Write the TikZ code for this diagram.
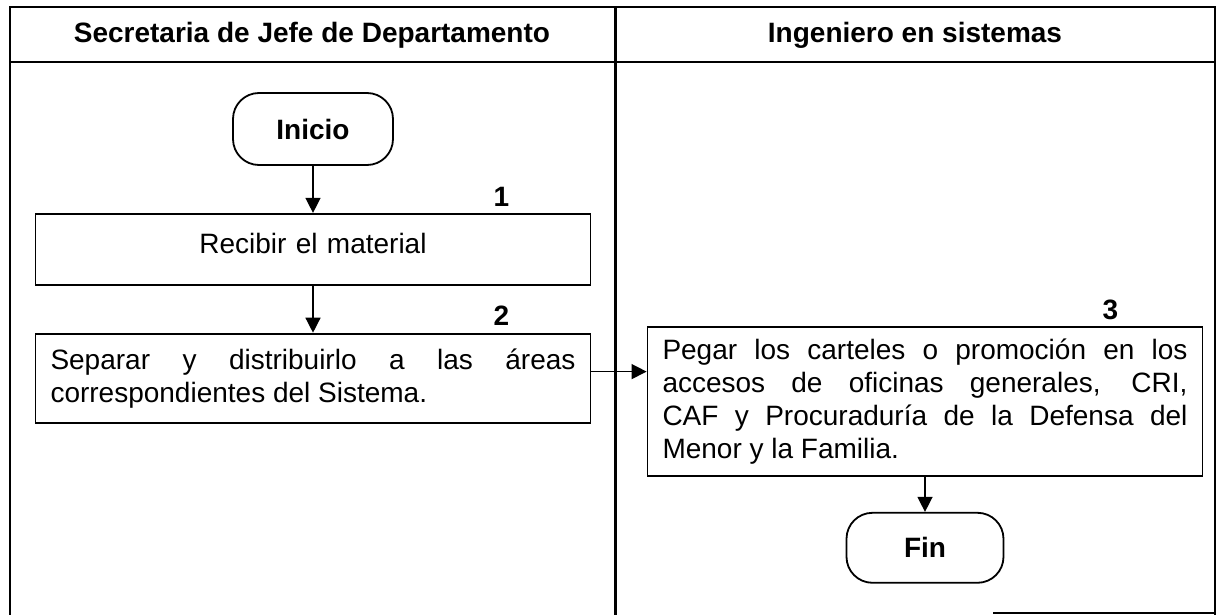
\documentclass[tikz,border=0pt]{standalone}
\usepackage{fontspec}
\setmainfont{Liberation Sans}
\usepackage{tikz}
\usetikzlibrary{shapes.geometric, arrows.meta, positioning, calc}
\tolerance=10000
\hbadness=10000
\hyphenpenalty=10000
\tikzstyle{arrow} = [line width=0.7pt, -{Triangle[length=7.5pt, width=7.5pt]}]
\tikzstyle{process} = [rectangle, draw=black, line width=0.9pt, text width=262.5pt, inner xsep=7.5pt, align=justify, font=\fontsize{14}{16.5}\selectfont]
\tikzstyle{terminal} = [rectangle, rounded corners=13pt, draw=black, line width=0.9pt, font=\fontsize{14}{16.5}\selectfont\bfseries]
\tikzstyle{titulo} = [font=\fontsize{14}{16.5}\selectfont\bfseries]
\tikzstyle{numero} = [font=\fontsize{14}{16.5}\selectfont\bfseries]
\tikzstyle{marco} = [line width=1.3pt]

\begin{document}
\begin{tikzpicture}[x=0.5pt, y=-0.5pt]
    \useasboundingbox (0,0) rectangle (1217,615);

    % Marco y carriles
    \draw [marco] (10,615) -- (10,7) -- (1215,7) -- (1215,615);
    \draw [marco, line width=1.5pt] (615,7) -- (615,615);
    \draw [line width=0.8pt] (10,62) -- (1215,62);
    \draw [marco] (993,613) -- (1215,613);

    % Encabezados
    \node (sec) [titulo] at (312,35) {Secretaria de Jefe de Departamento};
    \node (ing) [titulo] at (915,35) {Ingeniero en sistemas};

    % Secretaria
    \node (inicio) [terminal, minimum width=80pt, minimum height=36pt] at (313,129) {Inicio};
    \node (recibir) [process, align=center, text depth=6pt, minimum height=35.5pt, below=23.5pt of inicio] {Recibir el material};
    \node (separar) [process, minimum height=44.5pt, below=23.5pt of recibir] {Separar y distribuirlo a las áreas\linebreak correspondientes del Sistema.};

    % Ingeniero
    \node (pegar) [process, minimum height=74.5pt] at (925,401.5) {Pegar los carteles o promoción en los\linebreak accesos de oficinas generales, CRI,\linebreak CAF y Procuraduría de la Defensa del\linebreak Menor y la Familia.};
    \node (fin) [terminal, minimum width=78.5pt, minimum height=35pt, below=17.5pt of pegar] {Fin};

    % Numeros
    \node (n1) [numero] at ($(recibir.north east)+(-90,-16)$) {1};
    \node (n2) [numero] at ($(separar.north east)+(-90,-17)$) {2};
    \node (n3) [numero] at ($(pegar.north east)+(-93,-16)$) {3};

    % Flechas
    \draw [arrow] (inicio) -- (recibir);
    \draw [arrow] (recibir) -- (separar);
    \draw [arrow] ([yshift=3.25pt]separar.east) -- ([yshift=3.25pt]separar.east -| pegar.west);
    \draw [arrow] (pegar) -- (fin);
\end{tikzpicture}
\end{document}
